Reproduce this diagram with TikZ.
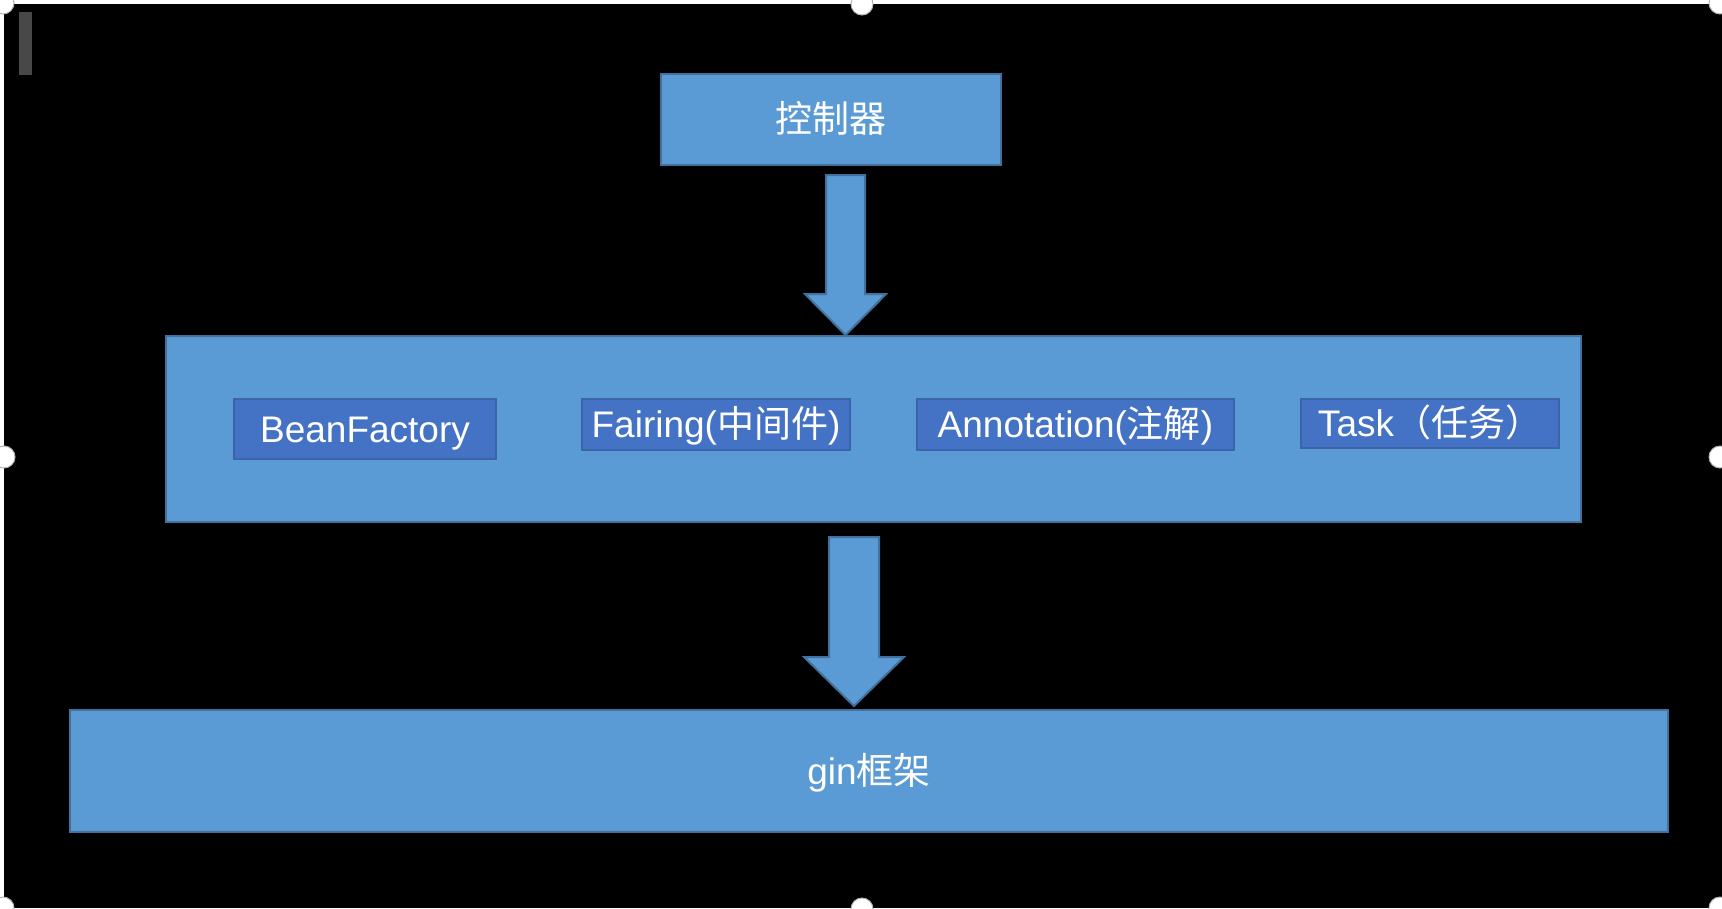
\documentclass[tikz,border=0pt]{standalone}
\usepackage{fontspec}
\setmainfont{Liberation Sans}
\newfontfamily\cjk{Noto Sans CJK SC}
\definecolor{boxfill}{HTML}{5B9BD5}
\definecolor{boxline}{HTML}{41719C}
\definecolor{innerfill}{HTML}{4472C4}
\definecolor{innerline}{HTML}{3B65A8}
\definecolor{barcol}{HTML}{484848}
\tikzset{
  bigbox/.style={draw=boxline, fill=boxfill, line width=2pt, inner sep=0pt, text=white, text height=26pt, text depth=0pt, font=\fontsize{37}{40}\selectfont},
  innerbox/.style={draw=innerline, fill=innerfill, line width=2pt, inner sep=0pt, text=white, text height=26pt, text depth=0pt, font=\fontsize{37}{40}\selectfont},
  blockarrow/.style={draw=boxline, fill=boxfill, line width=2pt, line join=miter},
  handle/.style={draw=gray!60, fill=white, line width=1pt}
}
\begin{document}
\begin{tikzpicture}[x=1pt,y=-1pt]
\useasboundingbox (0,0) rectangle (1722,908);
\fill[white] (0,0) rectangle (1722,908);
\fill[black] (4,4) rectangle (1722,908);
\fill[barcol] (19,12) rectangle (32,75);

\node[bigbox, minimum width=340pt, minimum height=91pt] (ctrl) at (831,119.5) {\cjk 控制器};
\node[bigbox, minimum width=1415pt, minimum height=186pt] (mid) at (873.5,429) {};
\node[bigbox, minimum width=1598pt, minimum height=122pt] (gin) at (869,771) {gin{\cjk 框架}};

\node[innerbox, minimum width=262pt, minimum height=60pt] (bean) at (365,429) {BeanFactory};
\node[innerbox, minimum width=268pt, minimum height=51pt] (fair) at (716,424.5) {Fairing({\cjk 中间件})};
\node[innerbox, minimum width=317pt, minimum height=51pt] (anno) at (1075.5,424.5) {Annotation({\cjk 注解})};
\node[innerbox, minimum width=258pt, minimum height=49pt] (task) at (1430,423.5) {Task{\cjk （任务）}};

\draw[blockarrow] (826,175) -- (865,175) -- (865,294) -- (886,294) -- (845.5,335) -- (805,294) -- (826,294) -- cycle;
\draw[blockarrow] (829,537) -- (879,537) -- (879,657) -- (904,657) -- (854,706) -- (804,657) -- (829,657) -- cycle;

\foreach \p in {(3,3),(862,4),(1720,3),(4,457),(1720,457),(3,908),(862,909),(1720,908)}
  \draw[handle] \p circle (11);
\end{tikzpicture}
\end{document}
